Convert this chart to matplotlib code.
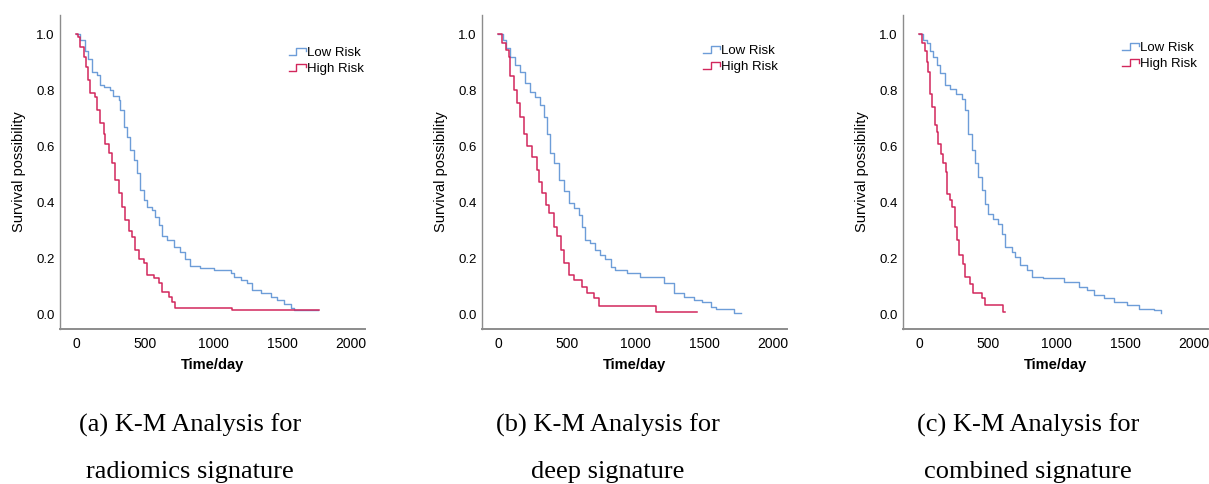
import numpy as np
import matplotlib
matplotlib.use("Agg")
import matplotlib.pyplot as plt
from matplotlib.legend_handler import HandlerBase
from matplotlib.lines import Line2D

plt.rcParams['font.family'] = ['Liberation Sans', 'DejaVu Sans']

# (a) radiomics signature
a_low_t = [0, 30, 66, 90, 114, 150, 175, 200, 248, 272, 309, 321, 345, 370, 394, 418, 443, 467, 491, 516,
           552, 577, 601, 625, 662, 710, 759, 796, 832, 905, 1002, 1124, 1148, 1197, 1246, 1282, 1343, 1416,
           1465, 1513, 1562, 1586, 1760]
a_low_s = [1.0, 0.98, 0.94, 0.91, 0.866, 0.854, 0.82, 0.81, 0.80, 0.78, 0.765, 0.73, 0.67, 0.635, 0.587, 0.55,
           0.504, 0.445, 0.41, 0.386, 0.374, 0.35, 0.32, 0.28, 0.267, 0.243, 0.225, 0.2, 0.175, 0.166, 0.16,
           0.148, 0.136, 0.125, 0.113, 0.09, 0.077, 0.065, 0.053, 0.04, 0.024, 0.018, 0.018]
a_high_t = [0, 17, 29, 54, 73, 90, 102, 139, 151, 175, 200, 212, 236, 260, 285, 309, 333, 358, 382, 406,
            431, 455, 491, 516, 564, 601, 625, 674, 698, 722, 1136, 1765]
a_high_s = [1.0, 0.99, 0.955, 0.92, 0.884, 0.836, 0.79, 0.777, 0.73, 0.682, 0.646, 0.61, 0.575, 0.54, 0.48,
            0.433, 0.386, 0.338, 0.30, 0.279, 0.23, 0.2, 0.184, 0.142, 0.13, 0.113, 0.083, 0.065, 0.047, 0.024,
            0.016, 0.016]

# (b) deep signature
b_low_t = [0, 39, 58, 88, 124, 161, 197, 234, 270, 307, 331, 355, 380, 404, 440, 477, 513, 550, 586, 611,
           635, 671, 708, 745, 781, 818, 854, 939, 1036, 1207, 1280, 1353, 1426, 1487, 1547, 1584, 1718, 1766]
b_low_s = [1.0, 0.98, 0.95, 0.92, 0.89, 0.866, 0.825, 0.795, 0.777, 0.747, 0.706, 0.646, 0.575, 0.54, 0.48,
           0.44, 0.397, 0.38, 0.356, 0.314, 0.267, 0.255, 0.23, 0.213, 0.2, 0.172, 0.16, 0.148, 0.136, 0.113,
           0.077, 0.065, 0.053, 0.047, 0.03, 0.02, 0.006, 0.006]
b_high_t = [0, 29, 54, 78, 90, 114, 139, 163, 187, 212, 248, 285, 297, 321, 345, 370, 406, 431, 455, 479,
            516, 552, 613, 650, 698, 735, 1148, 1450]
b_high_s = [1.0, 0.967, 0.943, 0.92, 0.85, 0.8, 0.753, 0.706, 0.646, 0.6, 0.563, 0.516, 0.475, 0.433, 0.39,
            0.362, 0.314, 0.28, 0.23, 0.184, 0.142, 0.125, 0.1, 0.077, 0.06, 0.032, 0.01, 0.01]

# (c) combined signature
c_low_t = [0, 29, 54, 78, 102, 127, 151, 187, 224, 272, 309, 333, 358, 382, 406, 431, 455, 479, 504, 540,
           577, 601, 625, 674, 698, 735, 783, 820, 905, 1051, 1161, 1221, 1270, 1343, 1416, 1513, 1598, 1708,
           1757]
c_low_s = [1.0, 0.98, 0.97, 0.94, 0.92, 0.89, 0.86, 0.817, 0.805, 0.787, 0.77, 0.73, 0.645, 0.586, 0.54,
           0.49, 0.444, 0.396, 0.36, 0.343, 0.325, 0.29, 0.243, 0.225, 0.207, 0.178, 0.16, 0.136, 0.13, 0.118,
           0.1, 0.089, 0.071, 0.059, 0.047, 0.036, 0.02, 0.018, 0.008]
c_high_t = [0, 24, 41, 54, 68, 78, 97, 114, 127, 139, 156, 175, 195, 200, 224, 243, 260, 277, 292, 316, 336,
            370, 389, 455, 479, 613, 625]
c_high_s = [1.0, 0.97, 0.94, 0.9, 0.864, 0.787, 0.74, 0.675, 0.65, 0.61, 0.574, 0.54, 0.509, 0.432, 0.408,
            0.385, 0.314, 0.266, 0.213, 0.183, 0.136, 0.112, 0.077, 0.059, 0.035, 0.012, 0.012]

captions = [("(a) K-M Analysis for", "radiomics signature"),
            ("(b) K-M Analysis for", "deep signature"),
            ("(c) K-M Analysis for", "combined signature")]
labels = ["Low Risk", "High Risk"]

low_color = "#6d9dd8"
high_color = "#d2275c"
spine_color = "#8c8c8c"


class StepHandler(HandlerBase):
    # SPSS-like step symbol in the legend
    def create_artists(self, legend, orig_handle, xdescent, ydescent, width, height, fontsize, trans):
        xs = np.array([0, 0.45, 0.45, 1.0, 1.0]) * width - xdescent
        ys = np.array([0.1, 0.1, 0.85, 0.85, 0.5]) * height - ydescent
        ln = Line2D(xs, ys, color=orig_handle.get_color(), lw=1.0)
        ln.set_transform(trans)
        return [ln]


fig = plt.figure(figsize=(12.09, 4.84), dpi=100)
W, H = 1209, 484

panels = [(60, a_low_t, a_low_s, a_high_t, a_high_s, 0.75, 0.90),
          (482, b_low_t, b_low_s, b_high_t, b_high_s, 0.725, 0.905),
          (903, c_low_t, c_low_s, c_high_t, c_high_s, 0.718, 0.915)]
cap_x = [190, 608, 1028]

for i, (left, lt, ls, ht, hs, lx, ly) in enumerate(panels):
    ax = fig.add_axes([left / W, (H - 329) / H, 305 / W, 314 / H])
    l1, = ax.step(lt, ls, where='post', color=low_color, lw=1.0)
    l2, = ax.step(ht, hs, where='post', color=high_color, lw=1.1)
    ax.set_xlim(-117, 2102)
    ax.set_ylim(-0.05, 1.068)
    ax.set_xticks([0, 500, 1000, 1500, 2000])
    ax.set_yticks([0, 0.2, 0.4, 0.6, 0.8, 1.0])
    ax.set_yticklabels(["0.0", "0.2", "0.4", "0.6", "0.8", "1.0"])
    ax.tick_params(axis='x', length=0, pad=6, labelsize=10)
    ax.tick_params(axis='y', length=0, pad=4, labelsize=9.5)
    for s in ['top', 'right']:
        ax.spines[s].set_visible(False)
    ax.spines['left'].set_color(spine_color)
    ax.spines['bottom'].set_color(spine_color)
    ax.spines['left'].set_linewidth(1.0)
    ax.spines['bottom'].set_linewidth(1.4)
    ax.set_xlabel("Time/day", fontsize=10.5, fontweight='bold', labelpad=5)
    ax.set_ylabel("Survival possibility", fontsize=10.5, labelpad=7)
    ax.legend([l1, l2], labels, handler_map={Line2D: StepHandler()}, loc='upper left',
              bbox_to_anchor=(lx, ly), frameon=False, fontsize=9.5, handlelength=1.3,
              handletextpad=0.05, labelspacing=0.3, borderpad=0, borderaxespad=0)

    fig.text(cap_x[i] / W, 1 - 425 / H, captions[i][0], ha='center', va='center',
             family='Liberation Serif', fontsize=19)
    fig.text(cap_x[i] / W, 1 - 472 / H, captions[i][1], ha='center', va='center',
             family='Liberation Serif', fontsize=19)

fig.savefig("out.png", dpi=100)
